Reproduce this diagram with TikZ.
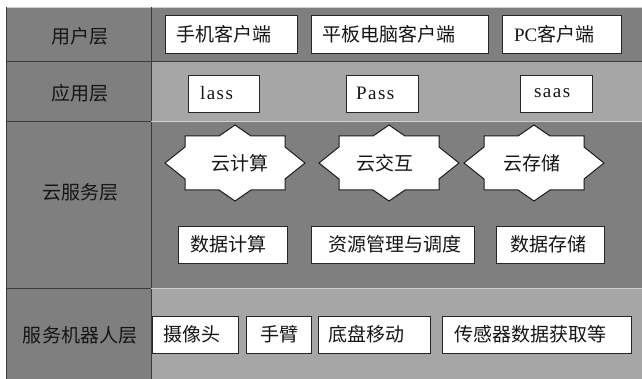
\documentclass[tikz,border=0pt]{standalone}
\usepackage{fontspec}
\setmainfont{Liberation Serif}
\newfontfamily\cjk{Noto Sans CJK SC}
\newfontfamily\latsp[LetterSpace=8]{Liberation Serif}
\definecolor{dkfill}{HTML}{7F7F7F}
\definecolor{ltfill}{HTML}{A6A6A6}
\definecolor{dkline}{HTML}{3A3A3A}
\definecolor{ltline}{HTML}{D0D0D0}
\definecolor{txt}{HTML}{151515}
\tikzset{
  bx/.style={draw=black!85, line width=0.9pt, fill=white, inner ysep=0pt,
    align=left, text=txt, font=\cjk\fontsize{19}{21}\selectfont},
  lay/.style={text=txt, font=\cjk\fontsize{19}{21}\selectfont},
  starshape/.style={draw=black!90, line width=1pt, fill=white},
}
\newcommand\tbox[7]{% name, x1, y1, x2, y2, pad, text
  \pgfmathsetmacro\tbw{#4-#2-2*#6}%
  \pgfmathsetmacro\tbh{#5-#3}%
  \node[bx, inner xsep=#6pt, text width=\tbw pt, minimum height=\tbh pt]
    (#1) at ({(#2+#4)/2},{(#3+#5)/2}) {#7};}
\newcommand\starpath[2]{%
  \draw[starshape, shift={(#1,#2)}]
    (0,-38) -- (16,-27) -- (50,-27) -- (50,-16) -- (70,0) -- (50,16) -- (50,27)
    -- (16,27) -- (0,38) -- (-16,27) -- (-50,27) -- (-50,16) -- (-70,0)
    -- (-50,-16) -- (-50,-27) -- (-16,-27) -- cycle;}
\begin{document}
\begin{tikzpicture}[x=1pt,y=-1pt]
\useasboundingbox (0,0) rectangle (642,379);
\fill[white] (0,0) rectangle (642,379);
% row fills
\fill[dkfill] (6,7) rectangle (642,61);
\fill[dkfill] (6,61) rectangle (151,121);
\fill[ltfill] (151,61) rectangle (642,121);
\fill[dkfill] (6,121) rectangle (642,288);
\fill[dkfill] (6,288) rectangle (151,379);
\fill[ltfill] (151,288) rectangle (642,379);
% grid lines
\draw[ltline, line width=0.8pt] (6,7) -- (642,7);
\draw[dkline, line width=0.6pt] (6,7) -- (6,379);
\draw[dkline, line width=1pt] (151,7) -- (151,379);
\draw[dkline, line width=0.8pt] (6,61) -- (642,61);
\draw[dkline, line width=0.8pt] (6,121) -- (151,121);
\draw[ltline, line width=0.8pt] (151,121) -- (642,121);
\draw[dkline, line width=0.8pt] (6,288) -- (151,288);
\draw[ltline, line width=0.8pt] (151,288) -- (642,288);
% layer labels
\node[lay] (L1) at (80,36) {用户层};
\node[lay] (L2) at (80,93) {应用层};
\node[lay] (L3) at (80,192) {云服务层};
\node[lay] (L4) at (80,335) {服务机器人层};
% row 1
\tbox{u1}{165}{15}{297}{53}{11}{手机客户端}
\tbox{u2}{311}{15}{488}{53}{11}{平板电脑客户端}
\tbox{u3}{502}{15}{621}{53}{12}{{\rmfamily PC}客户端}
% row 2
\tbox{a1}{188}{75}{259}{112}{12}{{\latsp lass}}
\tbox{a2}{346}{75}{418}{112}{10}{{\latsp Pass}}
\tbox{a3}{520}{75}{592}{112}{14}{{\latsp saas}}
% row 3 stars
\starpath{235}{163}
\starpath{389}{163}
\starpath{534}{163}
\node[lay] (s1) at (240,163) {云计算};
\node[lay] (s2) at (385,163) {云交互};
\node[lay] (s3) at (532,163) {云存储};
\tbox{c1}{178}{226}{287}{263}{12}{数据计算}
\tbox{c2}{311}{226}{474}{263}{17}{资源管理与调度}
\tbox{c3}{496}{226}{604}{263}{14}{数据存储}
% row 4
\tbox{r1}{152}{316}{238}{353}{11}{摄像头}
\tbox{r2}{246}{316}{311}{353}{14}{手臂}
\tbox{r3}{318}{316}{430}{353}{10}{底盘移动}
\tbox{r4}{442}{316}{631}{353}{12}{传感器数据获取等}
\end{tikzpicture}
\end{document}
